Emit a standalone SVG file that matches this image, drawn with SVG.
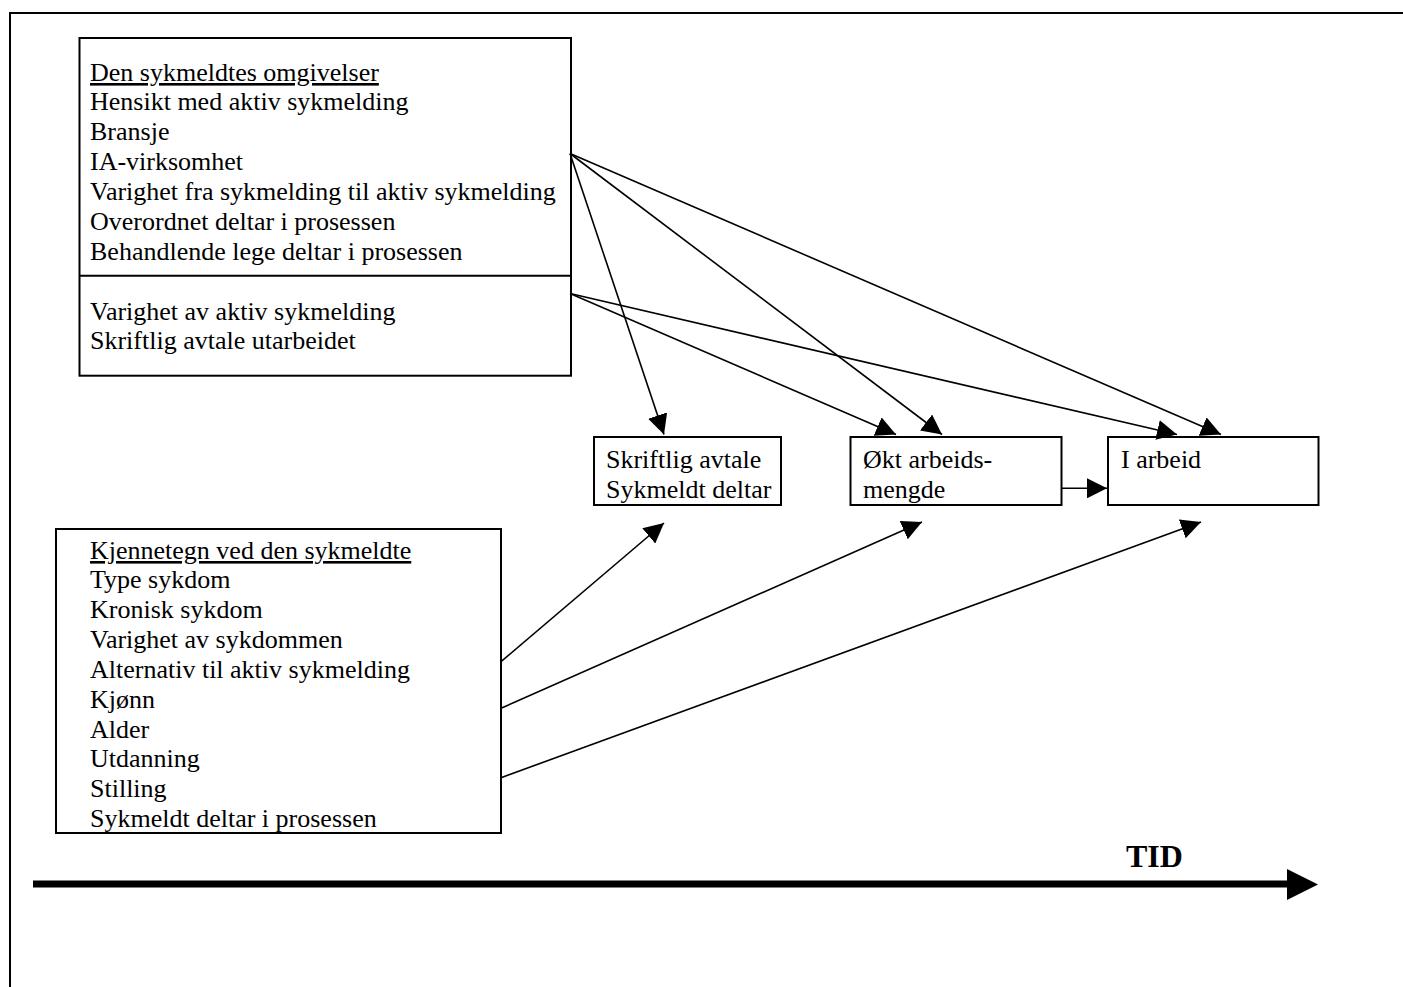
<svg xmlns="http://www.w3.org/2000/svg" width="1403" height="987" viewBox="0 0 1403 987">
<defs>
<style>
text{font-family:"Liberation Serif","Times New Roman",serif;font-size:26px;fill:#000}
.box{fill:#fff;stroke:#000;stroke-width:2}
.con{stroke:#000;stroke-width:1.6;fill:none}
.u{text-decoration:underline}
</style>
<marker id="ah" markerUnits="userSpaceOnUse" markerWidth="20" markerHeight="20" viewBox="0 0 18 18" refX="18" refY="9" orient="auto">
<path d="M0,0 L18,9 L0,18 z" fill="#000"/>
</marker>
</defs>
<rect width="1403" height="987" fill="#fff"/>
<path d="M10,987 V13 H1403" fill="none" stroke="#000" stroke-width="2"/>

<g id="node-omgivelser">
<rect class="box" x="79.5" y="38" width="491.5" height="337.7"/>
<line x1="79.5" y1="275.7" x2="571" y2="275.7" stroke="#000" stroke-width="2"/>
<text x="90" y="81" class="u">Den sykmeldtes omgivelser</text>
<text x="90" y="110">Hensikt med aktiv sykmelding</text>
<text x="90" y="140">Bransje</text>
<text x="90" y="170">IA-virksomhet</text>
<text x="90" y="200">Varighet fra sykmelding til aktiv sykmelding</text>
<text x="90" y="230">Overordnet deltar i prosessen</text>
<text x="90" y="260">Behandlende lege deltar i prosessen</text>
<text x="90" y="320">Varighet av aktiv sykmelding</text>
<text x="90" y="349">Skriftlig avtale utarbeidet</text>
</g>

<g id="node-kjennetegn">
<rect class="box" x="56" y="529" width="445" height="304"/>
<text x="90" y="559" class="u">Kjennetegn ved den sykmeldte</text>
<text x="90" y="588">Type sykdom</text>
<text x="90" y="618">Kronisk sykdom</text>
<text x="90" y="648">Varighet av sykdommen</text>
<text x="90" y="678">Alternativ til aktiv sykmelding</text>
<text x="90" y="708">Kjønn</text>
<text x="90" y="738">Alder</text>
<text x="90" y="767">Utdanning</text>
<text x="90" y="797">Stilling</text>
<text x="90" y="827">Sykmeldt deltar i prosessen</text>
</g>

<g id="node-skriftlig">
<rect class="box" x="594" y="437" width="187" height="68"/>
<text x="606" y="468">Skriftlig avtale</text>
<text x="606" y="498">Sykmeldt deltar</text>
</g>

<g id="node-okt">
<rect class="box" x="850.5" y="437" width="211" height="68"/>
<text x="863" y="468">Økt arbeids-</text>
<text x="863" y="498">mengde</text>
</g>

<g id="node-iarbeid">
<rect class="box" x="1108" y="437" width="210.5" height="68"/>
<text x="1121" y="468">I arbeid</text>
</g>

<g id="connectors">
<line class="con" x1="570" y1="153.5" x2="664" y2="434.5" marker-end="url(#ah)"/>
<line class="con" x1="570" y1="153.5" x2="942" y2="434.5" marker-end="url(#ah)"/>
<line class="con" x1="570" y1="153.5" x2="1221" y2="434.5" marker-end="url(#ah)"/>
<line class="con" x1="570" y1="293.5" x2="896" y2="434.5" marker-end="url(#ah)"/>
<line class="con" x1="570" y1="293.5" x2="1177" y2="434.5" marker-end="url(#ah)"/>
<line class="con" x1="501" y1="661.7" x2="664" y2="523" marker-end="url(#ah)"/>
<line class="con" x1="501" y1="708.3" x2="922" y2="522" marker-end="url(#ah)"/>
<line class="con" x1="501" y1="777.7" x2="1201" y2="522" marker-end="url(#ah)"/>
<line class="con" x1="1062" y1="488.3" x2="1107" y2="488.3" marker-end="url(#ah)"/>
</g>

<g id="timeline">
<line x1="33" y1="884" x2="1290" y2="884" stroke="#000" stroke-width="7"/>
<polygon points="1287,869 1318,884.5 1287,900" fill="#000"/>
<text x="1126" y="867" font-weight="bold" font-size="32" style="font-size:32px;font-weight:bold">TID</text>
</g>
</svg>
